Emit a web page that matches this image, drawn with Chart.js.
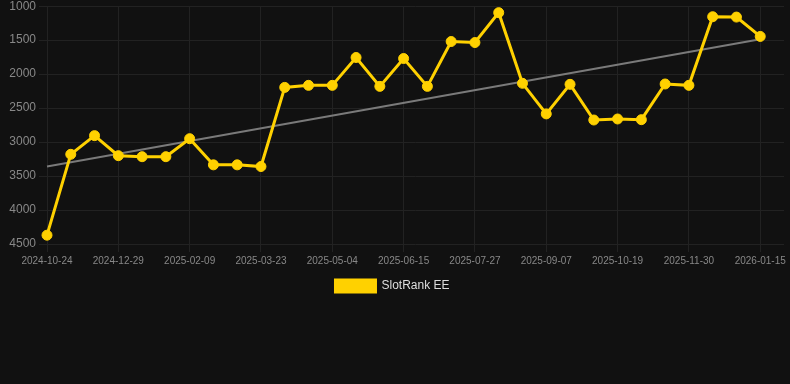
<!DOCTYPE html>
<html>
<head>
<meta charset="utf-8">
<script src="https://cdn.jsdelivr.net/npm/chart.js@4/dist/chart.umd.min.js"></script>
<style>
  html, body { margin: 0; padding: 0; background: #111111; overflow: hidden; }
  #wrap { position: relative; width: 790px; height: 306px; margin-top: -4px; }
</style>
</head>
<body>
<div id="wrap"><canvas id="chart"></canvas></div>
<script>
// categories (last one is an empty trailing slot)
const dates = [
  '2024-10-24', '2024-11-10', '2024-12-01', '2024-12-29', '2025-01-12', '2025-01-26',
  '2025-02-09', '2025-02-23', '2025-03-09', '2025-03-23', '2025-04-06', '2025-04-20',
  '2025-05-04', '2025-05-18', '2025-06-01', '2025-06-15', '2025-06-29', '2025-07-13',
  '2025-07-27', '2025-08-10', '2025-08-24', '2025-09-07', '2025-09-21', '2025-10-05',
  '2025-10-19', '2025-11-02', '2025-11-16', '2025-11-30', '2025-12-14', '2025-12-28',
  '2026-01-15', ''
];

// rank values (lower is better, axis reversed)
const rankValues = [
  4370, 3180, 2905, 3200, 3215, 3215, 2950, 3335, 3335, 3360,
  2195, 2165, 2165, 1755, 2180, 1770, 2180, 1520, 1535, 1095,
  2135, 2585, 2150, 2675, 2660, 2670, 2145, 2165, 1155, 1160,
  1445
];

// trend line end points (first and last data point)
const trendValues = [3360, null, null, null, null, null, null, null, null, null,
  null, null, null, null, null, null, null, null, null, null,
  null, null, null, null, null, null, null, null, null, null, 1485];

const yTicks = [1000, 1500, 2000, 2500, 3000, 3500, 4000, 4500];

const fontFamily = 'Arial, "Liberation Sans", sans-serif';

new Chart(document.getElementById('chart').getContext('2d'), {
  type: 'line',
  data: {
    labels: dates,
    datasets: [
      {
        label: 'SlotRank EE',
        data: rankValues,
        borderColor: '#FFD100',
        backgroundColor: '#FFD100',
        borderWidth: 3,
        pointRadius: 5,
        pointHoverRadius: 5,
        pointBackgroundColor: '#FFD100',
        pointBorderColor: '#FFD100',
        pointBorderWidth: 1,
        tension: 0,
        order: 1
      },
      {
        label: 'trend',
        data: trendValues,
        borderColor: '#7a7a7a',
        borderWidth: 2,
        pointRadius: 0,
        spanGaps: true,
        tension: 0,
        order: 2
      }
    ]
  },
  options: {
    responsive: true,
    maintainAspectRatio: false,
    animation: false,
    layout: { padding: { left: 0, right: 5, top: 0, bottom: 0 } },
    plugins: {
      legend: {
        position: 'bottom',
        labels: {
          color: '#dddddd',
          boxWidth: 40,
          boxHeight: 12,
          font: { family: fontFamily, size: 12 },
          filter: (item) => item.text !== 'trend'
        }
      },
      tooltip: { enabled: false }
    },
    scales: {
      x: {
        grid: { color: '#222222' },
        border: { display: false },
        ticks: {
          color: '#888888',
          autoSkip: false,
          maxRotation: 0,
          font: { family: fontFamily, size: 10 },
          callback: function (value, index) {
            return index % 3 === 0 ? dates[index] : null;
          }
        }
      },
      y: {
        reverse: true,
        min: 1000,
        max: 4500,
        afterBuildTicks: (axis) => { axis.ticks = yTicks.map(v => ({ value: v })); },
        afterFit: (axis) => { axis.width = 47; },
        grid: { color: '#222222' },
        border: { display: false },
        ticks: {
          color: '#888888',
          font: { family: fontFamily, size: 12 },
          callback: (value) => String(value)
        }
      }
    }
  }
});
</script>
</body>
</html>
